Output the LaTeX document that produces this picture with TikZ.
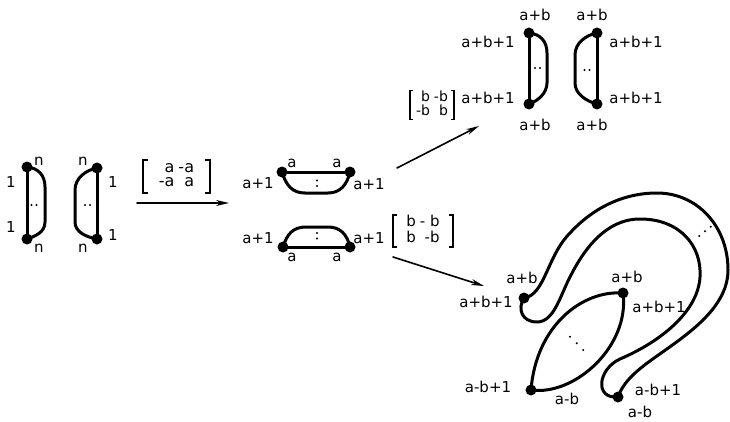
\documentclass[tikz,border=0pt]{standalone}
\usepackage{fontspec}
\setmainfont{DejaVu Sans}
\usetikzlibrary{arrows.meta}
\begin{document}
\begin{tikzpicture}[x=1pt, y=1pt, line join=round, line cap=round,
		curve/.style={line width=3pt},
		dot/.style={circle, fill, inner sep=0pt, minimum size=11pt},
		lbl/.style={inner sep=0pt, font=\fontsize{15}{15}\selectfont},
		mat/.style={inner sep=0pt, font=\fontsize{16}{14.5}\selectfont},
		brk/.style={line width=1.6pt, line cap=butt, line join=miter},
		mapto/.style={line width=1.6pt, -{Stealth[length=13pt, width=6pt]}}]
		\useasboundingbox (0,0) rectangle (730,421);

		% first pair of strips
		\node[dot] (p1t) at (27,254) {};
		\node[dot] (p1b) at (27,182) {};
		\node[dot] (p2t) at (97,253) {};
		\node[dot] (p2b) at (97,182) {};
		\draw[curve] (p1t.center) -- (p1b.center);
		\draw[curve] (p1t.center) .. controls (38,253) and (45,246) .. (45,234) -- (45,199) .. controls (45,189) and (36,185) .. (p1b.center);
		\draw[curve] (p2t.center) -- (p2b.center);
		\draw[curve] (p2t.center) .. controls (86,251) and (75,243) .. (75,231) -- (75,199) .. controls (75,189) and (86,184) .. (p2b.center);
		\node[lbl] (p1tn) at (39,260) {n};
		\node[lbl] (p1t1) at (11,239) {1};
		\node[lbl] (p1b1) at (11,194) {1};
		\node[lbl] (p1bn) at (39,173) {n};
		\node[lbl] (p2tn) at (83,260) {n};
		\node[lbl] (p2t1) at (113,239) {1};
		\node[lbl] (p2b1) at (113,186) {1};
		\node[lbl] (p2bn) at (83,173) {n};
		\fill (31.5,216) circle (1.1pt) (36.5,216) circle (1.1pt);
		\fill (85,216) circle (1.1pt) (90,216) circle (1.1pt);

		% first map
		\node[mat, minimum width=67pt, minimum height=33pt] (m1) at (176.5,244.5) {\begin{tabular}{@{}r@{\hspace{4pt}}r@{}}a & -a\\ -a & a\end{tabular}};
		\draw[brk] ([xshift=5pt]m1.north west) -- (m1.north west) -- (m1.south west) -- ++(5pt,0);
		\draw[brk] ([xshift=-5pt]m1.north east) -- (m1.north east) -- (m1.south east) -- ++(-5pt,0);
		\coordinate (a1s) at (137,218);
		\coordinate (a1e) at (229,218);
		\draw[mapto] (a1s) -- (a1e);

		% middle strips
		\node[dot] (q1l) at (282,249) {};
		\node[dot] (q1r) at (350,249) {};
		\node[dot] (q2l) at (283,174) {};
		\node[dot] (q2r) at (350,174) {};
		\draw[curve] (q1l.center) -- (q1r.center);
		\draw[curve] (q1l.center) .. controls (286,236) and (292,228) .. (305,228) -- (328,228) .. controls (340,228) and (347,236) .. (q1r.center);
		\draw[curve] (q2l.center) -- (q2r.center);
		\draw[curve] (q2l.center) .. controls (287,187) and (293,194) .. (306,194) -- (328,194) .. controls (340,194) and (347,187) .. (q2r.center);
		\node[lbl] (q1la) at (292,258) {a};
		\node[lbl] (q1ra) at (337,258) {a};
		\node[lbl] (q1ll) at (258,238) {a+1};
		\node[lbl] (q1rl) at (369,237) {a+1};
		\node[lbl] (q2la) at (292,164) {a};
		\node[lbl] (q2ra) at (337,164) {a};
		\node[lbl] (q2ll) at (258,183) {a+1};
		\node[lbl] (q2rl) at (369,183) {a+1};
		\fill (317,240.5) circle (1.1pt) (317,235) circle (1.1pt);
		\fill (317,188) circle (1.1pt) (317,182.5) circle (1.1pt);

		% the two maps on the right
		\node[mat, font=\fontsize{14}{12.5}\selectfont, minimum width=44pt, minimum height=27pt] (m2) at (432,316) {\begin{tabular}{@{}r@{\hspace{4pt}}r@{}}b & -b\\ -b & b\end{tabular}};
		\draw[brk] ([xshift=3pt]m2.north west) -- (m2.north west) -- (m2.south west) -- ++(3pt,0);
		\draw[brk] ([xshift=-3pt]m2.north east) -- (m2.north east) -- (m2.south east) -- ++(-3pt,0);
		\coordinate (a2s) at (397,253);
		\coordinate (a2e) at (479,295);
		\draw[mapto] (a2s) -- (a2e);
		\node[mat, font=\fontsize{15}{14.5}\selectfont, minimum width=60pt, minimum height=32pt] (m3) at (423,190) {\begin{tabular}{@{}r@{\hspace{4pt}}r@{}}b & - b\\ b & -b\end{tabular}};
		\draw[brk] ([xshift=4pt]m3.north west) -- (m3.north west) -- (m3.south west) -- ++(4pt,0);
		\draw[brk] ([xshift=-4pt]m3.north east) -- (m3.north east) -- (m3.south east) -- ++(-4pt,0);
		\coordinate (a3s) at (393,164);
		\coordinate (a3e) at (484,135);
		\draw[mapto] (a3s) -- (a3e);

		% upper result
		\node[dot] (r1t) at (529,388) {};
		\node[dot] (r1b) at (529,317) {};
		\node[dot] (r2t) at (597,388) {};
		\node[dot] (r2b) at (597,317) {};
		\draw[curve] (r1t.center) -- (r1b.center);
		\draw[curve] (r1t.center) .. controls (540,387) and (547,380) .. (547,368) -- (547,338) .. controls (547,328) and (538,320) .. (r1b.center);
		\draw[curve] (r2t.center) -- (r2b.center);
		\draw[curve] (r2t.center) .. controls (586,386) and (575,378) .. (575,366) -- (575,338) .. controls (575,327) and (586,320) .. (r2b.center);
		\node[lbl] (r1ta) at (535,406) {a+b};
		\node[lbl] (r2ta) at (592,406) {a+b};
		\node[lbl] (r1tl) at (488,379) {a+b+1};
		\node[lbl] (r2tl) at (636,379) {a+b+1};
		\node[lbl] (r1bl) at (488,323) {a+b+1};
		\node[lbl] (r2bl) at (636,323) {a+b+1};
		\node[lbl] (r1ba) at (535,296) {a+b};
		\node[lbl] (r2ba) at (592,296) {a+b};
		\fill (535,353) circle (1.1pt) (540,353) circle (1.1pt);
		\fill (584.5,351) circle (1.1pt) (589.5,351) circle (1.1pt);

		% lower result
		\node[dot] (sA) at (524,123) {};
		\node[dot] (sB) at (623,128) {};
		\node[dot] (sC) at (531,31) {};
		\node[dot] (sD) at (618,24) {};
		\draw[curve] (sB.center) .. controls (582,131) and (536,95) .. (sC.center);
		\draw[curve] (sC.center) .. controls (575,25) and (630,75) .. (sB.center);
		\draw[curve] (sA.center) .. controls (545,126) and (547,165) .. (570,188)
			.. controls (592,212) and (622,228) .. (657,228)
			.. controls (697,228) and (728,195) .. (728,151)
			.. controls (728,110) and (680,82) .. (650,60)
			.. controls (632,47) and (622,36) .. (sD.center);
		\draw[curve] (sA.center) .. controls (517,112) and (522,99) .. (537,99)
			.. controls (554,99) and (560,125) .. (570,144)
			.. controls (584,172) and (606,202) .. (640,202)
			.. controls (680,202) and (702,175) .. (700,144)
			.. controls (698,110) and (662,80) .. (620,62)
			.. controls (598,52) and (594,22) .. (sD.center);
		\node[lbl] (sAa) at (522,143) {a+b};
		\node[lbl] (sAl) at (486,119) {a+b+1};
		\node[lbl] (sBa) at (627,144) {a+b};
		\node[lbl] (sBl) at (659,114) {a+b+1};
		\node[lbl] (sCl) at (488,34) {a-b+1};
		\node[lbl] (sCa) at (567,22) {a-b};
		\node[lbl] (sDl) at (658,31) {a-b+1};
		\node[lbl] (sDa) at (640,9) {a-b};
		\fill (570,84.3) circle (1.1pt) (576.7,77.7) circle (1.1pt) (583.3,71) circle (1.1pt);
		\fill (699.3,185) circle (1.1pt) (705,189.7) circle (1.1pt) (710.7,194.3) circle (1.1pt);
	\end{tikzpicture}
\end{document}
